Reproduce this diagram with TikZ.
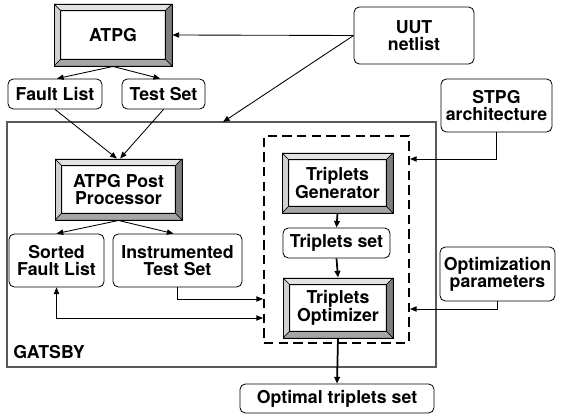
\documentclass[tikz,border=0pt]{standalone}
\usepackage{fontspec}
\setmainfont{TeX Gyre Heros}
\usetikzlibrary{arrows.meta}
\definecolor{bvtop}{HTML}{E2E2E2}
\definecolor{bvleft}{HTML}{D0D0D0}
\definecolor{bvright}{HTML}{7E7E7E}
\definecolor{bvbot}{HTML}{A6A6A6}
\tikzset{
  txt/.style={font=\fontsize{13.3}{12.6}\selectfont\bfseries, align=center, text=black},
  sz/.style 2 args={minimum width=#1*0.75pt, minimum height=#2*0.75pt, inner sep=0pt},
  rbox/.style={txt, draw=black, line width=0.6pt, rounded corners=4pt},
  bevel/.style={txt, draw=black, line width=0.7pt,
    path picture={
      \def\bw{5.2pt}
      \coordinate (bnw) at (path picture bounding box.north west);
      \coordinate (bne) at (path picture bounding box.north east);
      \coordinate (bsw) at (path picture bounding box.south west);
      \coordinate (bse) at (path picture bounding box.south east);
      \filldraw[fill=bvtop, draw=black, line width=0.3pt] (bnw) -- (bne) -- ([shift={(-\bw,-\bw)}]bne) -- ([shift={(\bw,-\bw)}]bnw) -- cycle;
      \filldraw[fill=bvleft, draw=black, line width=0.3pt] (bnw) -- (bsw) -- ([shift={(\bw,\bw)}]bsw) -- ([shift={(\bw,-\bw)}]bnw) -- cycle;
      \filldraw[fill=bvright, draw=black, line width=0.3pt] (bne) -- (bse) -- ([shift={(-\bw,\bw)}]bse) -- ([shift={(-\bw,-\bw)}]bne) -- cycle;
      \filldraw[fill=bvbot, draw=black, line width=0.3pt] (bsw) -- (bse) -- ([shift={(-\bw,\bw)}]bse) -- ([shift={(\bw,\bw)}]bsw) -- cycle;
      \draw[black, line width=0.8pt] ([shift={(\bw,-\bw)}]bnw) rectangle ([shift={(-\bw,\bw)}]bse);
    }},
  arr/.style={-{Triangle[length=5pt,width=4pt]}, line width=0.65pt},
  arrb/.style={{Triangle[length=5pt,width=4pt]}-{Triangle[length=5pt,width=4pt]}, line width=0.65pt},
  arrthick/.style={-{Triangle[length=5pt,width=4.2pt]}, line width=1.3pt},
}
\begin{document}
\begin{tikzpicture}[x=0.75pt, y=-0.75pt]
\useasboundingbox (0,0) rectangle (565,416);

% GATSBY frame and dashed region
\node[draw=black!65, line width=1pt, sz={429}{245}] (gatsby) at (221.5,244.5) {};
\node[txt, anchor=base west, inner sep=0pt] (gatsbylbl) at (13,359) {GATSBY};
\node[draw=black, line width=1.5pt, dash pattern=on 7pt off 4pt, sz={145}{207}] (dbox) at (336.5,239.5) {};

% nodes
\node[bevel, sz={118}{62}] (atpg) at (113,35) {ATPG};
\node[rbox, sz={94}{30}] (fl) at (55,94) {Fault List};
\node[rbox, sz={83}{30}] (ts) at (163.5,94) {Test Set};
\node[rbox, sz={120}{57}] (uut) at (414,35.5) {UUT\\netlist};
\node[rbox, sz={111}{53}] (stpg) at (496.5,105.5) {STPG\\architecture};
\node[bevel, sz={127}{61}] (pp) at (118.5,189.5) {ATPG Post\\Processor};
\node[rbox, sz={95}{53}] (sfl) at (56.5,260.5) {Sorted\\Fault List};
\node[rbox, sz={129}{53}] (its) at (177.5,260.5) {Instrumented\\Test Set};
\node[bevel, sz={111}{60}] (tg) at (337.5,183) {Triplets\\Generator};
\node[rbox, sz={107}{30}] (tset) at (336.5,243) {Triplets set};
\node[bevel, sz={110}{60}] (to) at (338,308) {Triplets\\Optimizer};
\node[rbox, sz={115}{54}] (op) at (497.5,274) {Optimization\\parameters};
\node[rbox, sz={194}{29}] (opt) at (337,398.5) {Optimal triplets set};

\coordinate (gtop) at (223,122);

% connectors
\draw[arr] (uut.west) -- (atpg.east);
\draw[arr] (uut.west) -- (gtop);
\draw[arr] (atpg.south) -- ([xshift=1.5pt]fl.north);
\draw[arr] (atpg.south) -- ([xshift=-2.5pt]ts.north);
\draw[arr] (fl.south) -- ([xshift=-1.2pt]pp.north);
\draw[arr] (ts.south) -- ([xshift=1.2pt]pp.north);
\draw[arr] (pp.south) -- (sfl.north);
\draw[arr] (pp.south) -- ([xshift=-3pt]its.north);
\draw[arr] (stpg.south) |- (dbox.east |- 0,159);
\draw[arr] (op.south) |- (dbox.east |- 0,309);
\draw[arr] (its.south) |- (dbox.west |- 0,299);
\draw[arrb] (sfl.south) |- (dbox.west |- 0,318);
\draw[arrthick] (tg.south) -- (tset.north);
\draw[arrthick] (tset.south) -- (to.north);
\draw[arrthick] (to.south) -- (opt.north);
\end{tikzpicture}
\end{document}
